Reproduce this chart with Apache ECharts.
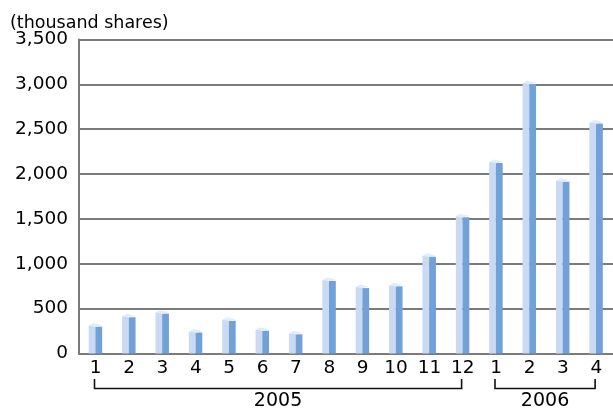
<!DOCTYPE html>
<html>
<head>
<meta charset="utf-8">
<script src="https://cdn.jsdelivr.net/npm/echarts@6/dist/echarts.min.js"></script>
<style>
  html, body { margin: 0; padding: 0; background: #fff; }
  #chart { width: 613px; height: 411px; }
</style>
</head>
<body>
<div id="chart"></div>
<script>
// Monthly trading volume, thousand shares
const months = ['1', '2', '3', '4', '5', '6', '7', '8', '9', '10', '11', '12', '1', '2', '3', '4'];
const volumes = [310, 415, 455, 245, 375, 265, 225, 820, 740, 760, 1090, 1530, 2135, 3015, 1925, 2575];
const years = ['2005', '2006'];
const yearFirst = [0, 12];
const yearLast = [11, 15];
const yTicks = [0, 500, 1000, 1500, 2000, 2500, 3000, 3500];

const FONT = '"DejaVu Sans", "Liberation Sans", Arial, sans-serif';
const GRID_COLOR = '#7b7b7b';

const chart = echarts.init(document.getElementById('chart'), null, { renderer: 'canvas' });

// 3D-looking column: light front face, darker side face, pale top cap
function renderColumn(params, api) {
  const idx = api.value(0);
  const top = api.coord([idx, api.value(1)]);
  const base = api.coord([idx, 0]);
  const cx = top[0];
  const x0 = cx - 7, xm = cx - 0.3, x2 = cx + 6.5;
  const yTop = top[1], yBase = base[1];
  return {
    type: 'group',
    children: [
      { type: 'rect', shape: { x: x0, y: yTop, width: xm - x0, height: yBase - yTop },
        style: { fill: '#c9daf2' } },
      { type: 'rect', shape: { x: xm, y: yTop + 1, width: x2 - xm, height: yBase - yTop - 1 },
        style: { fill: '#72a1d8' } },
      { type: 'polygon', shape: { points: [[x0, yTop], [x0 + 4.5, yTop - 2.5], [x2, yTop - 0.5], [xm, yTop + 1.2]] },
        style: { fill: '#e2edfb' } }
    ]
  };
}

chart.setOption({
  animation: false,
  textStyle: { fontFamily: FONT },
  title: {
    text: '(thousand shares)',
    left: 5, top: 9,
    textStyle: { fontFamily: FONT, fontSize: 17.5, fontWeight: 'normal', color: '#000' }
  },
  grid: { left: 79, right: -5, top: 39.5, bottom: 57.5, containLabel: false },
  xAxis: {
    type: 'category',
    data: months,
    axisLine: { show: true, lineStyle: { color: GRID_COLOR, width: 2 } },
    axisTick: { show: false },
    axisLabel: { color: '#000', fontSize: 18.5, fontFamily: FONT, margin: 5, interval: 0 },
    splitLine: { show: false }
  },
  yAxis: {
    type: 'value',
    min: yTicks[0], max: yTicks[yTicks.length - 1], interval: 500,
    axisLine: { show: true, lineStyle: { color: GRID_COLOR, width: 2 } },
    axisTick: { show: false },
    axisLabel: {
      color: '#000', fontSize: 18.5, fontFamily: FONT, margin: 11,
      padding: [4, 0, 0, 0],
      formatter: v => v.toLocaleString('en-US')
    },
    splitLine: { show: true, lineStyle: { color: GRID_COLOR, width: 2 } }
  },
  series: [{
    type: 'custom',
    renderItem: renderColumn,
    encode: { x: 0, y: 1 },
    data: volumes.map((v, i) => [i, v]),
    clip: false
  }]
});

// Year brackets under the month labels, positioned from the category axis
function drawYearBrackets() {
  const elements = [];
  const yTickTop = 379, yLine = 388.5;
  years.forEach((label, k) => {
    const xa = chart.convertToPixel({ xAxisIndex: 0 }, yearFirst[k]) - 1.2;
    const xb = chart.convertToPixel({ xAxisIndex: 0 }, yearLast[k]) - 1.2;
    elements.push({
      type: 'polyline',
      shape: { points: [[xa, yTickTop], [xa, yLine], [xb, yLine], [xb, yTickTop]] },
      style: { stroke: '#111', lineWidth: 1.6, fill: null }
    });
    elements.push({
      type: 'text',
      x: (xa + xb) / 2, y: 401,
      style: { text: label, fill: '#000', font: '19px ' + FONT, align: 'center', verticalAlign: 'middle' }
    });
  });
  chart.setOption({ graphic: { elements } });
}
drawYearBrackets();
</script>
</body>
</html>
